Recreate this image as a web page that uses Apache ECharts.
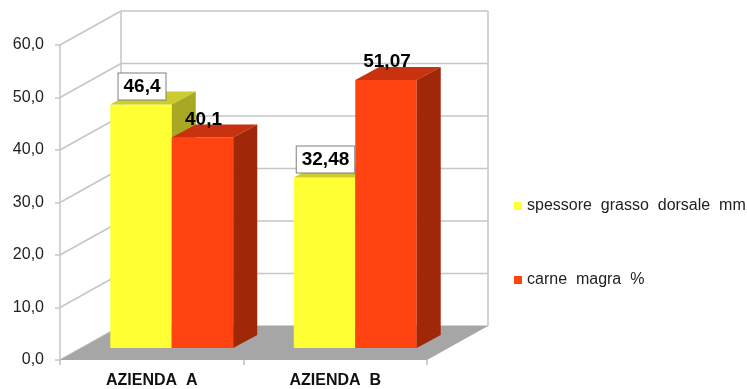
<!DOCTYPE html>
<html>
<head>
<meta charset="utf-8">
<script src="https://cdn.jsdelivr.net/npm/echarts@6/dist/echarts.min.js"></script>
<style>
  html, body { margin: 0; padding: 0; background: #fff; }
  #chart { width: 747px; height: 389px; }
</style>
</head>
<body>
<div id="chart"></div>
<script>
// Chart data
const categories = ['AZIENDA  A', 'AZIENDA  B'];
const fatThickness = [46.4, 32.48];   // spessore grasso dorsale mm
const leanMeat = [40.1, 51.07];       // carne magra %
const yTicks = [0, 10, 20, 30, 40, 50, 60];
const seriesNames = ['spessore  grasso  dorsale  mm', 'carne  magra  %'];

// Drawing settings for the pseudo-3D look
const FONT = '"Liberation Sans", Arial, sans-serif';
const WALL_DEPTH = [61, -34];   // offset from front plane to back wall
const BAR_FRONT = [20, -12];    // offset of the bar front faces
const BAR_DEPTH = [24, -13];    // depth of each bar
const BAR_FRAC = 0.335;         // bar width as a share of a category
const GRID_COLOR = '#c6c6c6';

const palette = [
  { front: '#ffff33', top: '#cccc30', side: '#a8a822' },
  { front: '#ff4411', top: '#c8320e', side: '#a02808' }
];

const fmt = v => String(v).replace('.', ',');

// Floor, side wall and back wall with their gridlines
function renderWall(params, api) {
  const cs = params.coordSys;
  const v = api.value(1);
  const y = api.coord([0, v])[1];
  const left = cs.x, right = cs.x + cs.width;
  const [dx, dy] = WALL_DEPTH;
  const line = (x1, y1, x2, y2) => ({
    type: 'line',
    shape: { x1, y1, x2, y2 },
    style: { stroke: GRID_COLOR, lineWidth: 1.5 }
  });
  const children = [
    line(left, y, left + dx, y + dy),
    line(left + dx, y + dy, right + dx, y + dy)
  ];
  if (params.dataIndex === 0) {
    const topY = cs.y;
    children.push(line(left + dx, y + dy, left + dx, topY + dy));
    children.push(line(right + dx, y + dy, right + dx, topY + dy));
    children.push({
      type: 'polygon',
      shape: { points: [[left, y], [right, y], [right + dx, y + dy], [left + dx, y + dy]] },
      style: { fill: '#a6a6a6' }
    });
  }
  return { type: 'group', children };
}

// One box (front, top, side faces) plus its value label
function barRenderer(s) {
  return function (params, api) {
    const i = api.value(0), v = api.value(1);
    const top = api.coord([i, v]);
    const base = api.coord([i, 0]);
    const bw = api.size([1, 0])[0] * BAR_FRAC;
    const x0 = top[0] - bw + s * bw + BAR_FRONT[0];
    const x1 = x0 + bw;
    const yt = top[1] + BAR_FRONT[1];
    const yb = base[1] + BAR_FRONT[1];
    const [dx, dy] = BAR_DEPTH;
    const c = palette[s];
    const labelStyle = {
      text: fmt(v),
      font: 'bold 19px ' + FONT,
      fill: '#000',
      align: 'center',
      verticalAlign: 'middle'
    };
    if (s === 0) {
      labelStyle.backgroundColor = '#fff';
      labelStyle.borderColor = '#7f7f7f';
      labelStyle.borderWidth = 1;
      labelStyle.padding = [4, 5, 3, 5];
    }
    return {
      type: 'group',
      children: [
        { type: 'polygon', shape: { points: [[x0, yb], [x1, yb], [x1, yt], [x0, yt]] }, style: { fill: c.front } },
        { type: 'polygon', shape: { points: [[x0, yt], [x1, yt], [x1 + dx, yt + dy], [x0 + dx, yt + dy]] }, style: { fill: c.top } },
        { type: 'polygon', shape: { points: [[x1, yt], [x1, yb], [x1 + dx, yb + dy], [x1 + dx, yt + dy]] }, style: { fill: c.side } },
        { type: 'text', x: (x0 + x1) / 2 + 1, y: yt - 18, z2: 100, style: labelStyle }
      ]
    };
  };
}

const chart = echarts.init(document.getElementById('chart'), null, { renderer: 'canvas' });

chart.setOption({
  animation: false,
  backgroundColor: '#fff',
  grid: { left: 60, right: 320, top: 45, bottom: 29 },
  legend: {
    orient: 'vertical',
    left: 514,
    top: 198,
    padding: 0,
    itemWidth: 8,
    itemHeight: 8,
    itemGap: 58,
    icon: 'rect',
    selectedMode: false,
    data: seriesNames,
    textStyle: { fontFamily: FONT, fontSize: 16, color: '#222', lineHeight: 16 }
  },
  xAxis: {
    type: 'category',
    data: categories,
    boundaryGap: true,
    axisLine: { show: false },
    axisTick: { show: true, length: 5, lineStyle: { color: '#c0c0c0', width: 1.5 } },
    axisLabel: { margin: 13, fontFamily: FONT, fontSize: 16, fontWeight: 'bold', color: '#111' },
    splitLine: { show: false }
  },
  yAxis: {
    type: 'value',
    min: 0,
    max: 60,
    interval: 10,
    axisLine: { show: true, lineStyle: { color: GRID_COLOR, width: 1.5 } },
    axisTick: { show: true, length: 5, lineStyle: { color: GRID_COLOR, width: 1.5 } },
    axisLabel: {
      margin: 16,
      fontFamily: FONT,
      fontSize: 16,
      color: '#222',
      formatter: v => v.toFixed(1).replace('.', ',')
    },
    splitLine: { show: false }
  },
  series: [
    {
      type: 'custom',
      name: 'wall',
      silent: true,
      z: 1,
      renderItem: renderWall,
      encode: { x: 0, y: 1 },
      data: yTicks.map(v => [0, v])
    },
    {
      type: 'custom',
      name: seriesNames[0],
      z: 2,
      itemStyle: { color: palette[0].front },
      renderItem: barRenderer(0),
      encode: { x: 0, y: 1 },
      data: fatThickness.map((v, i) => [i, v])
    },
    {
      type: 'custom',
      name: seriesNames[1],
      z: 2,
      itemStyle: { color: palette[1].front },
      renderItem: barRenderer(1),
      encode: { x: 0, y: 1 },
      data: leanMeat.map((v, i) => [i, v])
    }
  ]
});
</script>
</body>
</html>
